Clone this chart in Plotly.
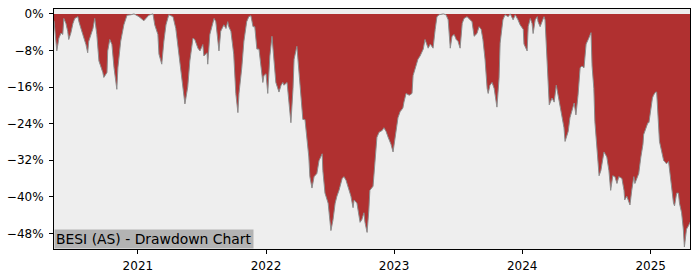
import plotly.graph_objects as go

dates = [
    "2020-05-07","2020-05-09","2020-05-15","2020-05-21","2020-05-27","2020-06-01","2020-06-04","2020-06-10",
    "2020-06-15","2020-06-18","2020-06-24","2020-06-30","2020-07-05","2020-07-14","2020-07-17","2020-07-28",
    "2020-08-06","2020-08-11","2020-08-14","2020-08-26","2020-08-31","2020-09-06","2020-09-12","2020-09-23",
    "2020-09-26","2020-10-05","2020-10-07","2020-10-13","2020-10-19","2020-10-25","2020-11-02","2020-11-05",
    "2020-11-13","2020-11-22","2020-12-01","2020-12-12","2020-12-21",
    "2021-01-04","2021-01-18","2021-02-01","2021-02-13","2021-02-18","2021-02-27","2021-03-02","2021-03-10",
    "2021-03-16","2021-03-22","2021-03-30","2021-04-11","2021-04-19","2021-04-28","2021-05-09","2021-05-15",
    "2021-05-23","2021-05-29","2021-06-07","2021-06-12","2021-06-21","2021-06-27","2021-07-05","2021-07-08",
    "2021-07-17","2021-07-19","2021-07-25","2021-08-06","2021-08-11","2021-08-17","2021-08-20","2021-08-25",
    "2021-09-03","2021-09-09","2021-09-14","2021-09-17","2021-09-23","2021-10-01","2021-10-07","2021-10-13",
    "2021-10-16","2021-10-24","2021-10-30","2021-11-07","2021-11-13","2021-11-19","2021-11-25","2021-11-30",
    "2021-12-06","2021-12-12","2021-12-17","2021-12-23","2021-12-26",
    "2022-01-01","2022-01-06","2022-01-12","2022-01-18","2022-01-24","2022-01-29","2022-02-07","2022-02-13",
    "2022-02-18","2022-02-21","2022-03-02","2022-03-07","2022-03-13","2022-03-19","2022-03-22","2022-03-30",
    "2022-04-05","2022-04-11","2022-04-16","2022-04-22","2022-04-28","2022-05-03","2022-05-06","2022-05-12",
    "2022-05-18","2022-05-26","2022-06-01","2022-06-10","2022-06-12","2022-06-18","2022-06-27","2022-06-30",
    "2022-07-05","2022-07-11","2022-07-17","2022-07-22","2022-07-28","2022-08-06","2022-08-11","2022-08-17",
    "2022-08-25","2022-08-31","2022-09-06","2022-09-09","2022-09-17","2022-09-23","2022-09-26","2022-10-01",
    "2022-10-07","2022-10-10","2022-10-16","2022-10-21","2022-10-24","2022-11-02","2022-11-08","2022-11-13",
    "2022-11-19","2022-11-28","2022-12-03","2022-12-09","2022-12-15","2022-12-23","2022-12-29",
    "2023-01-01","2023-01-06","2023-01-12","2023-01-18","2023-01-26","2023-01-29","2023-02-04","2023-02-13",
    "2023-02-21","2023-02-24","2023-03-02","2023-03-10","2023-03-16","2023-03-25","2023-03-30","2023-04-08",
    "2023-04-14","2023-04-22","2023-04-28","2023-05-03","2023-05-09","2023-05-21","2023-05-29","2023-06-04",
    "2023-06-10","2023-06-15","2023-06-21","2023-06-27","2023-07-02","2023-07-08","2023-07-14","2023-07-19",
    "2023-07-28","2023-08-03","2023-08-11","2023-08-17","2023-08-25","2023-08-31","2023-09-06","2023-09-11",
    "2023-09-17","2023-09-23","2023-09-26","2023-10-01","2023-10-07","2023-10-13","2023-10-16","2023-10-21",
    "2023-10-27","2023-10-30","2023-11-07","2023-11-13","2023-11-22","2023-11-28","2023-12-06","2023-12-12",
    "2023-12-20","2023-12-26",
    "2024-01-04","2024-01-06","2024-01-15","2024-01-18","2024-01-24","2024-01-29","2024-02-01","2024-02-07",
    "2024-02-13","2024-02-15","2024-02-21","2024-02-27","2024-03-03","2024-03-06","2024-03-09","2024-03-15",
    "2024-03-18","2024-03-26","2024-04-01","2024-04-07","2024-04-12","2024-04-18","2024-04-24","2024-04-29",
    "2024-05-02","2024-05-11","2024-05-16","2024-05-25","2024-05-28","2024-06-02","2024-06-08","2024-06-14",
    "2024-06-19","2024-06-25","2024-07-01","2024-07-07","2024-07-12","2024-07-15","2024-07-18","2024-07-23",
    "2024-07-26","2024-08-01","2024-08-07","2024-08-12","2024-08-18","2024-08-21","2024-08-29","2024-09-04",
    "2024-09-09","2024-09-15","2024-09-21","2024-09-27","2024-10-02","2024-10-11","2024-10-17","2024-10-19",
    "2024-10-25","2024-10-31","2024-11-03","2024-11-08","2024-11-14","2024-11-17","2024-11-23","2024-11-28",
    "2024-12-04","2024-12-10","2024-12-12","2024-12-18","2024-12-24","2024-12-27",
    "2025-01-01","2025-01-06","2025-01-09","2025-01-15","2025-01-18","2025-01-21","2025-01-26","2025-02-01",
    "2025-02-07","2025-02-10","2025-02-15","2025-02-21","2025-02-24","2025-03-01","2025-03-07","2025-03-10",
    "2025-03-16","2025-03-21","2025-03-24","2025-03-30","2025-04-04","2025-04-07","2025-04-13","2025-04-19",
    "2025-04-23",
]

drawdown_pct = [
    -1.5,-3.5,-8.1,-5.3,-4.2,-4.5,-1.0,-2.1,
    -3.8,-5.6,-4.2,-2.1,-1.0,-0.6,-1.7,-4.5,
    -6.7,-8.5,-6.0,-3.2,-1.0,-4.5,-10.3,-12.8,
    -13.9,-12.8,-8.1,-5.6,-6.7,-11.8,-16.5,-11.8,
    -6.0,-2.4,-0.3,-0.2,0.0,
    -0.6,-1.5,-0.3,0.0,-2.4,-4.5,-8.8,-11.0,
    -6.0,-2.4,-0.2,-0.6,-3.2,-8.8,-15.3,-19.7,
    -16.0,-10.3,-5.3,-5.6,-7.5,-8.1,-6.7,-9.2,
    -8.5,-11.0,-4.5,-1.0,-1.7,-5.3,-8.1,-3.8,
    -2.4,-3.2,-1.7,-2.8,-3.8,-8.8,-17.4,-21.6,
    -17.4,-11.8,-6.0,-1.7,-0.6,-0.4,-2.8,-2.8,
    -7.7,-7.7,-11.4,-15.0,-13.5,
    -13.1,-17.4,-9.2,-4.9,-9.9,-15.0,-17.1,-15.6,
    -15.0,-15.6,-15.0,-19.3,-23.8,-16.3,-9.9,-7.1,
    -12.9,-19.9,-23.1,-23.1,-27.0,-31.3,-35.6,-38.1,
    -35.6,-34.9,-32.1,-30.6,-34.3,-39.2,-41.4,-43.5,
    -47.4,-45.0,-41.4,-39.9,-38.6,-36.0,-35.6,-36.4,
    -38.6,-39.9,-42.4,-40.7,-41.4,-44.1,-45.6,-45.0,
    -43.5,-45.6,-47.8,-42.9,-38.6,-37.7,-32.8,-27.0,
    -25.9,-25.5,-24.9,-25.7,-27.0,-28.5,-30.2,
    -28.5,-25.7,-22.7,-21.4,-20.6,-19.3,-17.4,-17.8,
    -17.4,-13.5,-11.8,-9.9,-9.2,-7.7,-5.6,-7.5,
    -6.6,-7.5,-3.4,-0.6,-0.2,0.0,-0.2,-1.3,
    -7.5,-4.9,-4.5,-5.6,-6.0,-7.5,-2.1,-1.0,
    -0.6,-1.0,-1.7,-4.9,-4.3,-2.8,-3.4,-5.6,
    -9.9,-16.3,-17.4,-15.6,-15.0,-16.3,-18.4,-20.4,
    -14.1,-6.4,-1.3,-0.2,-0.6,0.0,-1.3,-0.2,
    -1.3,-2.4,
    -3.4,-6.6,-8.1,-2.8,-1.0,-2.1,-4.3,-1.3,
    -0.6,-1.7,-2.8,-1.3,-0.6,-1.3,-6.4,-17.8,
    -19.9,-18.4,-19.3,-15.6,-17.8,-20.6,-23.6,-24.9,
    -27.9,-25.7,-22.7,-20.6,-19.5,-22.1,-17.8,-11.8,
    -11.4,-11.8,-6.6,-5.6,-4.5,-4.1,-11.4,-16.3,
    -23.6,-30.0,-35.4,-34.3,-31.3,-30.2,-31.3,-34.3,
    -38.6,-35.4,-35.6,-37.1,-35.6,-36.0,-38.6,-40.7,
    -39.9,-41.4,-41.8,-38.6,-35.6,-37.1,-35.6,-34.9,
    -31.3,-28.5,-26.4,-24.9,-23.8,-23.8,
    -20.6,-18.4,-17.8,-17.1,-17.1,-22.1,-27.9,-30.0,
    -32.1,-32.3,-32.8,-32.3,-34.3,-37.1,-41.4,-42.0,
    -39.2,-39.2,-41.4,-43.5,-47.1,-51.0,-47.1,-46.3,
    -45.6,
]

y_tick_vals = [0, -8, -16, -24, -32, -40, -48]
y_tick_text = ["0%", "\u22128%", "\u221216%", "\u221224%", "\u221232%", "\u221240%", "\u221248%"]
x_tick_vals = ["2021-01-01", "2022-01-01", "2023-01-01", "2024-01-01", "2025-01-01"]
x_tick_text = ["2021", "2022", "2023", "2024", "2025"]
title_text = "BESI (AS) - Drawdown Chart"

fig = go.Figure()
fig.add_trace(go.Scatter(
    x=dates, y=drawdown_pct, mode="lines",
    line=dict(color="#8c8c8c", width=1),
    fill="tozeroy", fillcolor="#b03030",
    hoverinfo="skip", showlegend=False,
))

fig.update_layout(
    width=700, height=280,
    margin=dict(l=53, r=10, t=7, b=28),
    paper_bgcolor="white",
    plot_bgcolor="#eeeeee",
    font=dict(family="DejaVu Sans", size=12, color="black"),
    showlegend=False,
)
fig.update_xaxes(
    range=[dates[0], dates[-1]],
    tickvals=x_tick_vals, ticktext=x_tick_text,
    showgrid=False, zeroline=False,
    showline=True, linecolor="black", linewidth=1, mirror=True,
    ticks="outside", ticklen=4, tickcolor="black",
    ticklabelstandoff=2,
)
fig.update_yaxes(
    range=[-51.43, 1.07],
    tickvals=y_tick_vals, ticktext=y_tick_text,
    showgrid=False, zeroline=False,
    showline=True, linecolor="black", linewidth=1, mirror=True,
    ticks="outside", ticklen=4, tickcolor="black",
    ticklabelstandoff=3,
)
fig.add_annotation(
    text=title_text, xref="paper", yref="paper", x=0, y=0,
    xanchor="left", yanchor="bottom", showarrow=False,
    bgcolor="#b3b3b3", borderpad=1,
    font=dict(family="DejaVu Sans", size=13.9, color="black"),
)

fig.write_html("out.html")
